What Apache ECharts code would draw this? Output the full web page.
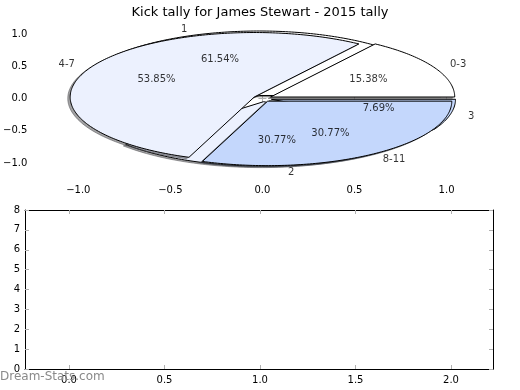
<!DOCTYPE html>
<html><head><meta charset="utf-8">
<script src="https://cdn.jsdelivr.net/npm/echarts@6/dist/echarts.min.js"></script>
<style>html,body{margin:0;padding:0;background:#fff}#c{width:520px;height:390px}</style>
</head><body><div id="c"></div>
<script>
// ---- data ----
const titleText = 'Kick tally for James Stewart - 2015 tally';
const pieALabels = ['1', '2', '3'];
const pieACounts = [8, 4, 1];
const pieBLabels = ['0-3', '4-7', '8-11'];
const pieBCounts = [2, 7, 4];
const pieTicks = [-1.0, -0.5, 0.0, 0.5, 1.0];
const lowerXTicks = [0.0, 0.5, 1.0, 1.5, 2.0];
const lowerYTicks = [0, 1, 2, 3, 4, 5, 6, 7, 8];
const watermark = 'Dream-Stats.com';

// ---- styles ----
const wedgeColors = ['#ffffff', '#ecf1fe', '#c4d7fc'];
const explode = 0.05;
const shadowDX = -0.013, shadowDY = -0.022;
const FONT = 'DejaVu Sans';

function buildWedges(labels, counts) {
  const total = counts.reduce((a, b) => a + b, 0);
  let cum = 0;
  return counts.map((c, i) => {
    const t1 = 360 * cum / total;
    cum += c;
    const t2 = 360 * cum / total;
    const mid = (t1 + t2) / 2 * Math.PI / 180;
    const ox = explode * Math.cos(mid), oy = explode * Math.sin(mid);
    return {
      t1, t2, mid, ox, oy, color: wedgeColors[i % wedgeColors.length],
      label: labels[i], pct: (100 * c / total).toFixed(2) + '%',
      lx: ox + 1.1 * Math.cos(mid), ly: oy + 1.1 * Math.sin(mid),
      px: ox + 0.6 * Math.cos(mid), py: oy + 0.6 * Math.sin(mid)
    };
  });
}
const wedgesA = buildWedges(pieALabels, pieACounts);
const wedgesB = buildWedges(pieBLabels, pieBCounts);

function shadowColor(hex) {
  const r = parseInt(hex.slice(1, 3), 16), g = parseInt(hex.slice(3, 5), 16), b = parseInt(hex.slice(5, 7), 16);
  return 'rgba(' + Math.round(r * 0.3) + ',' + Math.round(g * 0.3) + ',' + Math.round(b * 0.3) + ',0.5)';
}

function makeRender(wedges) {
  return function (params, api) {
    const w = wedges[params.dataIndex];
    const pts = [], spts = [];
    const steps = Math.max(4, Math.ceil(w.t2 - w.t1));
    pts.push(api.coord([w.ox, w.oy]));
    spts.push(api.coord([w.ox + shadowDX, w.oy + shadowDY]));
    for (let k = 0; k <= steps; k++) {
      const a = (w.t1 + (w.t2 - w.t1) * k / steps) * Math.PI / 180;
      const x = w.ox + Math.cos(a), y = w.oy + Math.sin(a);
      pts.push(api.coord([x, y]));
      spts.push(api.coord([x + shadowDX, y + shadowDY]));
    }
    const sc = shadowColor(w.color);
    return {
      type: 'group',
      children: [
        { type: 'polygon', shape: { points: spts }, style: { fill: sc, stroke: sc, lineWidth: 1 } },
        { type: 'polygon', shape: { points: pts }, style: { fill: w.color, stroke: '#000', lineWidth: 1 } }
      ]
    };
  };
}

const fmt1 = v => (Math.abs(v) < 1e-9 ? '0.0' : v.toFixed(1).replace('-', '\u2212'));
const tickStyle = { show: true, inside: true, length: 4, lineStyle: { color: '#b0b0b0', width: 1 } };
const labStyle = { color: '#000', fontFamily: FONT, fontSize: 10 };

function labelPoints(wedges) {
  return wedges.map(w => ({
    value: [w.lx, w.ly],
    label: { show: true, formatter: w.label, position: w.lx > 0 ? 'right' : 'left', distance: 0, ...labStyle }
  }));
}
function pctPoints(wedges) {
  return wedges.map(w => ({
    value: [w.px, w.py],
    label: { show: true, formatter: w.pct, position: 'inside', ...labStyle }
  }));
}

const topGrid = { left: 26.4, top: 17.9, width: 466.2, height: 161.2 };
const botGrid = { left: 25, top: 210, width: 468, height: 159 };

const option = {
  animation: false,
  backgroundColor: '#fff',
  title: { text: titleText, left: 'center', top: 1, textStyle: { fontFamily: FONT, fontSize: 13, fontWeight: 'normal', color: '#000' } },
  grid: [topGrid, botGrid],
  xAxis: [
    { gridIndex: 0, type: 'value', min: -1.25, max: 1.25, position: 'bottom', splitLine: { show: false }, axisLine: { show: false },
      axisTick: { ...tickStyle, customValues: pieTicks }, axisLabel: { ...labStyle, margin: 6, customValues: pieTicks, formatter: fmt1 } },
    { gridIndex: 0, type: 'value', min: -1.25, max: 1.25, position: 'top', splitLine: { show: false }, axisLine: { show: false },
      axisTick: { ...tickStyle, customValues: pieTicks }, axisLabel: { show: false } },
    { gridIndex: 1, type: 'value', min: -0.2304, max: 2.22, position: 'bottom', splitLine: { show: false },
      axisLine: { show: true, onZero: false, lineStyle: { color: '#000', width: 1 } },
      axisTick: { ...tickStyle, customValues: lowerXTicks }, axisLabel: { ...labStyle, margin: 6, customValues: lowerXTicks, formatter: fmt1 } },
    { gridIndex: 1, type: 'value', min: -0.2304, max: 2.22, position: 'top', splitLine: { show: false },
      axisLine: { show: true, onZero: false, lineStyle: { color: '#000', width: 1 } },
      axisTick: { ...tickStyle, customValues: lowerXTicks }, axisLabel: { show: false } }
  ],
  yAxis: [
    { gridIndex: 0, type: 'value', min: -1.25, max: 1.25, position: 'left', splitLine: { show: false }, axisLine: { show: false },
      axisTick: { ...tickStyle, customValues: pieTicks }, axisLabel: { ...labStyle, margin: 5, customValues: pieTicks, formatter: fmt1 } },
    { gridIndex: 0, type: 'value', min: -1.25, max: 1.25, position: 'right', splitLine: { show: false }, axisLine: { show: false },
      axisTick: { ...tickStyle, customValues: pieTicks }, axisLabel: { show: false } },
    { gridIndex: 1, type: 'value', min: 0, max: 8, interval: 1, position: 'left', splitLine: { show: false },
      axisLine: { show: true, onZero: false, lineStyle: { color: '#000', width: 1 } },
      axisTick: { ...tickStyle, customValues: lowerYTicks }, axisLabel: { ...labStyle, margin: 5, customValues: lowerYTicks } },
    { gridIndex: 1, type: 'value', min: 0, max: 8, interval: 1, position: 'right', splitLine: { show: false },
      axisLine: { show: true, onZero: false, lineStyle: { color: '#000', width: 1 } },
      axisTick: { ...tickStyle, customValues: lowerYTicks }, axisLabel: { show: false } }
  ],
  series: [
    { type: 'custom', xAxisIndex: 0, yAxisIndex: 0, clip: false, z: 2, renderItem: makeRender(wedgesA),
      data: wedgesA.map(w => [w.ox, w.oy]), encode: { x: 0, y: 1 } },
    { type: 'custom', xAxisIndex: 0, yAxisIndex: 0, clip: false, z: 3, renderItem: makeRender(wedgesB),
      data: wedgesB.map(w => [w.ox, w.oy]), encode: { x: 0, y: 1 } },
    { type: 'scatter', xAxisIndex: 0, yAxisIndex: 0, z: 5, symbolSize: 0, silent: true,
      data: labelPoints(wedgesA).concat(labelPoints(wedgesB)).concat(pctPoints(wedgesA)).concat(pctPoints(wedgesB)) },
    { type: 'line', xAxisIndex: 2, yAxisIndex: 2, data: [] }
  ],
  graphic: [
    { type: 'text', left: 0, top: 371, z: 100, style: { text: watermark, fontFamily: FONT, fontSize: 12, fill: '#8a8a8a' } }
  ]
};
const chart = echarts.init(document.getElementById('c'), null, { renderer: 'canvas' });
chart.setOption(option);
</script></body></html>
